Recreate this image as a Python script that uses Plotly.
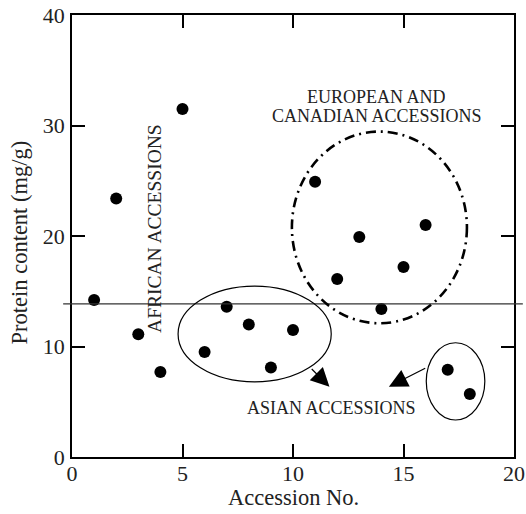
import plotly.graph_objects as go

# Protein content per accession
accession = list(range(1, 19))
protein = [14.2, 23.4, 11.1, 7.7, 31.5, 9.5, 13.6, 12.0, 8.1, 11.5,
           24.9, 16.1, 19.9, 13.4, 17.2, 21.0, 7.9, 5.7]

x_ticks = [0, 5, 10, 15, 20]
y_ticks = [0, 10, 20, 30, 40]
threshold = 13.85

FONT = "Liberation Serif, Times New Roman, serif"

fig = go.Figure()
fig.add_trace(go.Scatter(
    x=accession, y=protein, mode="markers",
    marker=dict(color="black", size=12, line=dict(width=0)),
    showlegend=False, cliponaxis=False,
))

shapes = [
    # reference level line running slightly past the frame
    dict(type="line", xref="paper", yref="y", x0=-0.02, x1=1.02,
         y0=threshold, y1=threshold, line=dict(color="#333", width=1.2)),
    # Asian groups
    dict(type="circle", xref="x", yref="y", x0=4.8, x1=11.73, y0=6.8, y1=15.47,
         line=dict(color="black", width=1.2)),
    dict(type="circle", xref="x", yref="y", x0=16.03, x1=18.68, y0=3.35, y1=10.34,
         line=dict(color="black", width=1.2)),
    # European and Canadian group
    dict(type="circle", xref="x", yref="y", x0=9.95, x1=17.87, y0=12.1, y1=29.45,
         line=dict(color="black", width=2.6, dash="10px,5px,2px,5px")),
]

label_font = dict(family=FONT, size=18, color="#222")
annotations = [
    dict(x=13.8, y=32.55, text="EUROPEAN AND", showarrow=False, height=18,
         xanchor="center", yanchor="middle", font=label_font),
    dict(x=13.8, y=30.85, text="CANADIAN ACCESSIONS", showarrow=False, height=18,
         xanchor="center", yanchor="middle", font=label_font),
    dict(x=11.74, y=4.45, text="ASIAN ACCESSIONS", showarrow=False,
         xanchor="center", yanchor="middle", font=label_font),
    dict(x=3.74, y=20.7, text="AFRICAN ACCESSIONS", showarrow=False,
         textangle=-90, xanchor="center", yanchor="middle",
         font=dict(family=FONT, size=19.5, color="#222")),
    # arrows pointing at the Asian label
    dict(x=11.65, y=6.36, ax=10.78, ay=8.1, axref="x", ayref="y",
         showarrow=True, arrowhead=2, arrowsize=3.1, arrowwidth=1.2,
         arrowcolor="black", text=""),
    dict(x=14.34, y=6.36, ax=16.05, ay=8.1, axref="x", ayref="y",
         showarrow=True, arrowhead=2, arrowsize=3.1, arrowwidth=1.2,
         arrowcolor="black", text=""),
    # axis titles
    dict(xref="paper", yref="paper", x=0.5, y=-0.092, text="Accession No.",
         xanchor="center", yanchor="middle",
         showarrow=False, font=dict(family=FONT, size=22.5, color="#222")),
    dict(xref="paper", yref="paper", x=-0.118, y=0.485, text="Protein content (mg/g)",
         xanchor="center", yanchor="middle",
         textangle=-90, showarrow=False, font=dict(family=FONT, size=22.5, color="#222")),
]

axis_common = dict(
    showgrid=False, zeroline=False, showline=True, linecolor="black", linewidth=1.5,
    mirror="ticks", ticks="inside", ticklen=13, tickwidth=1.5, tickcolor="black",
    tickfont=dict(family=FONT, size=22, color="#222"), automargin=False,
)

fig.update_layout(
    width=526, height=514,
    margin=dict(l=72, r=12, t=15, b=57),
    plot_bgcolor="white", paper_bgcolor="white",
    xaxis=dict(range=[0, 20], tickvals=x_ticks, ticklabelstandoff=-4, **axis_common),
    yaxis=dict(range=[0, 40], tickvals=y_ticks, ticklabelstandoff=1, **axis_common),
    shapes=shapes, annotations=annotations,
)

fig.write_html("out.html")
